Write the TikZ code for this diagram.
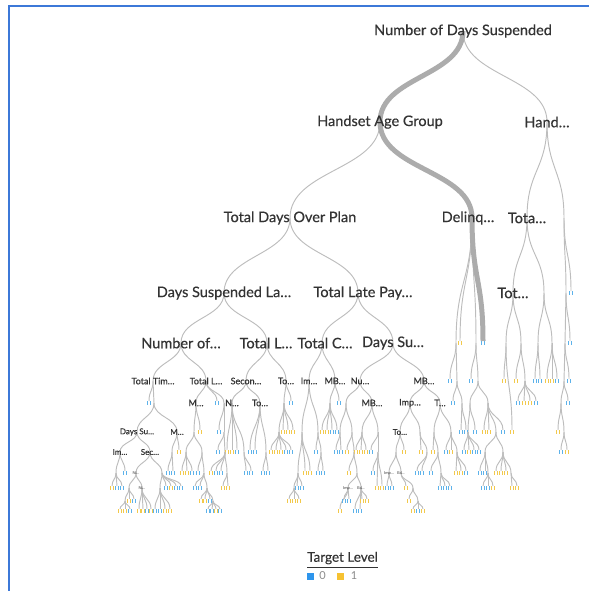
\documentclass[tikz,border=0pt]{standalone}
\usepackage{fontspec}
\setmainfont{Lato}
\newfontfamily\labfont[FakeBold=0.5]{Lato}
\usetikzlibrary{calc}
\definecolor{frameblue}{HTML}{3C78D8}
\definecolor{edgegray}{HTML}{BDBDBD}
\definecolor{thickgray}{HTML}{ACACAC}
\definecolor{txt}{HTML}{333333}
\definecolor{cb}{HTML}{5DB2EA}
\definecolor{cy}{HTML}{F2C94C}
\definecolor{legblue}{HTML}{2E95EC}
\definecolor{legyellow}{HTML}{F6C232}
\definecolor{leggray}{HTML}{8A8A8A}
\tikzset{
  edgeline/.style={draw=edgegray, line width=0.95pt},
  thickline/.style={draw=thickgray, line width=5pt},
  labA/.style={font=\labfont\fontsize{14.5}{16}\selectfont, text=txt, inner sep=0pt},
  labB/.style={font=\labfont\fontsize{9}{10}\selectfont, text=txt, inner sep=0pt},
  labC/.style={font=\labfont\fontsize{8}{9}\selectfont, text=txt, inner sep=0pt},
  labD/.style={font=\fontsize{4}{5}\selectfont, text=txt, inner sep=0pt},
  leafbar/.style={inner sep=0pt, anchor=north, font=\fontsize{4}{4}\selectfont},
  legsq/.style={inner sep=0pt, minimum size=7pt},
  legtxt/.style={font=\fontsize{11}{12}\selectfont, text=leggray, inner sep=0pt},
  legtitle/.style={font=\labfont\fontsize{13.5}{15}\selectfont, text=txt, inner sep=0pt}
}
\newcommand\bars{\rule{1.3pt}{3.3pt}\hspace{1.2pt}\rule{1.3pt}{3.3pt}}
\newcommand\tedge[3][]{\path ($(#2)!0.5!(#3)$) coordinate (tmpmid);
  \draw[edgeline,#1] (#2) .. controls (#2 |- tmpmid) and (#3 |- tmpmid) .. (#3);}
\begin{document}
\begin{tikzpicture}[x=1pt,y=-1pt]
\useasboundingbox (0,0) rectangle (589,591);
% tree points
\foreach \n/\x/\y in {R/463/31, H1/380/122, H2/547/122, T/290/218, D/472/218, TA/527/218, XA/564/218,
 DS/224/293, TL/358/293, TOT/513/293, XB/566/293, XG/544/293,
 NO/181/343, TLb/267/343, TC/322/343, DSU/393/343, XC/565/343, XH/538/343, XI/552/343, XJ/506/343, XK/521/343, XM/456/343, XN/476/343,
 TT/153/381, TLc/206/381, SE/246/381, TO/286/381, IMa/309/381, MB/335/381, NU/360/381, MBb/424/381, XD/564/381, XL/525/381, XO/457/381, XR/478/381,
 JA/154/403, M3/196/403, XL3/224/403, N2/232/403, TO3/260/403, XTo1/284/403, XMB/330/403, XNa/346/403, MB3/372/403, IMP/410/403, TD/440/403, XE/561/403, XP/462/403, XS/470/403, XT/488/403,
 DSU2/137/432, M2/177/432, XM3/194/432, XL4/224/432, XTo2/279/432, XIc/302/432, XId/318/432, XNb/340/432, XNc/352/432, XMa/362/432, XMb/378/432, TO2/400/432, XIa/420/432, XTa/434/432, XTb/451/432, XF/564/432, XU/468/432, XV/496/432,
 IM2/120/452, SEC/150/452, XM2a/172/452, XM4/186/452, XM5/202/452, XL5/225/452, XN2/244/452, XTo3/266/452, XIg/321/452, XNd/354/452, XMc/378/452, XTo2a/396/452, XIb/427/452, XTc/438/452, XTd/457/452, XW/485/452, XX/503/452,
 XIm/116/473, NI1/136/473, XSa/162/473, XM6/204/473, XL6/227/473, XIe/298/473, XNe/357/473, IA/389/473, EA/401/473, XTe/441/473, XY/488/473, XZ/511/473,
 XSb/129/488, NI2/142/488, XSd/160/488, XM7/207/488, XIf/294/488, IB/348/488, EB/361/488, XEa/413/488,
 XSc/125/501, XM8/213/501, XEb/418/501}
 {\coordinate (\n) at (\x,\y);}
% thin connectors between tree points
\foreach \p/\c in {R/H2, H1/T, H2/TA, H2/XA, T/DS, T/TL, D/XM, D/XN, TA/TOT, TA/XG, XA/XB, DS/NO, DS/TLb, TL/TC, TL/DSU,
 TOT/XJ, TOT/XK, XB/XC, XG/XH, XG/XI, NO/TT, NO/TLc, TLb/SE, TLb/TO, TC/IMa, TC/MB, DSU/NU, DSU/MBb, XC/XD, XK/XL, XM/XO, XN/XR,
 TT/JA, TLc/M3, TLc/XL3, SE/N2, SE/TO3, TO/XTo1, IMa/XIc, IMa/XId, MB/XMB, NU/XNa, NU/MB3, MBb/IMP, MBb/TD, XD/XE, XO/XP, XR/XS, XR/XT,
 JA/DSU2, JA/M2, M3/XM3, XL3/XL4, N2/XN2, TO3/XTo3, XTo1/XTo2, XIc/XIe, XId/XIg, XNa/XNb, XNa/XNc, MB3/XMa, MB3/XMb, IMP/TO2, IMP/XIa,
 TD/XTa, TD/XTb, XE/XF, XS/XU, XT/XV, DSU2/IM2, DSU2/SEC, M2/XM2a, XM3/XM4, XM3/XM5, XL4/XL5, XNc/XNd, XMb/XMc, TO2/XTo2a, XIa/XIb,
 XTa/XTc, XTb/XTd, XV/XW, XV/XX, IM2/XIm, SEC/NI1, SEC/XSa, XM5/XM6, XL5/XL6, XIe/XIf, XNd/XNe, XTo2a/IA, XTo2a/EA, XTc/XTe, XW/XY,
 XX/XZ, NI1/XSb, NI1/NI2, XSa/XSd, XM6/XM7, XNe/IB, XNe/EB, EA/XEa, XSb/XSc, XM7/XM8, XEa/XEb}
 {\tedge{\p}{\c}}
% leaves
\foreach \p/\x/\y/\c [count=\i] in {D/460/343/y,
 XA/571/293/b, XB/570/343/b, XC/569/381/b, XD/568/403/b, XE/558/432/y, XF/561/452/b, XF/567/452/y,
 XH/535/381/b, XH/540/381/b, XI/547/381/y, XI/552/381/y, XI/557/381/b,
 XJ/504/381/y, XJ/512/432/y, XK/516/381/y,
 XL/518/403/b, XL/524/403/y, XL/530/403/y, XL/536/403/b,
 XM/450/381/b, XN/471/381/b, XO/453/403/b, XP/461/432/b, XP/466/432/b,
 XS/475/432/b, XU/464/452/b, XU/469/452/y, XU/474/452/b, XU/479/452/b,
 XT/484/432/y, XT/489/432/y, XT/503/432/b,
 XW/480/473/b, XW/485/473/b, XY/483/488/b, XY/488/488/b, XY/493/488/y,
 XX/496/473/y, XX/501/473/y, XX/506/473/y, XZ/512/488/y, XZ/517/488/y,
 TT/149/403/b, TLc/217/403/b, TO/291/403/b, MB/339/403/b, M3/200/432/y, XL3/219/432/b,
 N2/227/452/y, N2/232/452/y, N2/237/452/b, TO3/250/452/b, TO3/255/452/b,
 XTo1/283/432/y, XTo1/288/432/y, XTo1/293/432/y,
 XMB/322/432/y, XMB/327/432/y, XMB/332/432/b, XMB/337/432/b,
 M2/179/452/y, XL4/218/452/b,
 XTo2/271/452/y, XTo2/276/452/y, XTo2/281/452/y, XTo2/286/452/b, XTo2/291/452/b,
 XIc/305/473/y, XIc/310/473/y, XId/316/452/b, XNb/336/452/b, XNb/341/452/b, XNc/347/452/y,
 XMa/356/452/y, XMa/361/452/y, XMa/366/452/y, XMb/371/452/b, TO2/404/452/y, XIa/421/452/y,
 XTa/433/452/y, XTb/446/452/b, XTb/451/452/y,
 IM2/125/473/b, XM2a/168/473/b, XM2a/173/473/b, XM4/182/473/y, XM4/187/473/y, XM4/192/473/b,
 XM5/198/473/b, XL5/211/473/y, XL5/216/473/b, XL5/221/473/b, XN2/246/473/b, XN2/251/473/b,
 XTo3/263/473/b, XTo3/268/473/b, XIg/318/473/b, XIg/323/473/b, XNd/349/473/y,
 XMc/373/473/b, XMc/377/488/y, XMc/382/488/y, XIb/417/473/b, XIb/422/473/b, XTc/431/473/b,
 XTd/456/473/y, XTd/461/473/y, XTd/466/473/b,
 XIm/112/488/y, XIm/117/488/b, XIm/122/488/b,
 XSa/166/488/b, XSa/171/488/y, XSa/176/488/b, XSa/181/488/b,
 XM6/195/488/b, XM6/200/488/b, XL6/223/488/y, XL6/228/488/y, XIe/297/488/b, XIe/302/488/b,
 IA/387/488/b, IA/392/488/b, EA/406/488/y, XTe/440/488/b, XTe/445/488/b, XTe/450/488/b,
 XSb/129/501/y, XSb/134/501/b,
 NI2/139/511/y, NI2/143/511/y, NI2/147/511/b, NI2/151/511/y,
 XSd/155/511/b, XSd/160/511/b, XSd/165/511/y, XSd/170/511/y,
 XM7/201/501/y, XM7/205/501/y, XM7/210/501/b, XIf/289/501/y, XIf/294/501/y, XIf/299/501/y,
 IB/340/511/y, IB/344/501/b, IB/349/501/b, EB/355/511/b, EB/360/511/b, EB/362/501/y, EB/367/501/y,
 XEa/409/501/y, XSc/120/511/y, XSc/125/511/y, XSc/130/511/b,
 XM8/208/511/b, XM8/212/511/b, XM8/216/511/y, XM8/220/511/b,
 XEb/413/511/y, XEb/418/511/b, XEb/423/511/y}
 {\coordinate (lf\i) at (\x,\y-2);
  \tedge{\p}{lf\i}
  \node[leafbar, text=c\c] (lb\i) at (lf\i) {\bars};}
% thick path
\coordinate (lfT) at (483,341);
\tedge[thickline]{R}{H1}
\tedge[thickline]{H1}{D}
\tedge[thickline]{D}{lfT}
\node[leafbar, text=cb] (lbT) at (lfT) {\bars};
% labels
\node[labA] (tR) at (R) {Number of Days Suspended};
\node[labA] (tH1) at (H1) {Handset Age Group};
\node[labA] (tH2) at (H2) {Hand…};
\node[labA] (tT) at (T) {Total Days Over Plan};
\node[labA, xshift=-4pt] (tD) at (D) {Delinq…};
\node[labA] (tTA) at (TA) {Tota…};
\node[labA] (tDS) at (DS) {Days Suspended La…};
\node[labA, xshift=5pt] (tTL) at (TL) {Total Late Pay…};
\node[labA] (tTOT) at (TOT) {Tot…};
\node[labA] (tNO) at (NO) {Number of…};
\node[labA, xshift=-1pt] (tTLb) at (TLb) {Total L…};
\node[labA, xshift=3pt] (tTC) at (TC) {Total C…};
\node[labA] (tDSU) at (DSU) {Days Su…};
\node[labB] (tTT) at (TT) {Total Tim…};
\node[labB] (tTLc) at (TLc) {Total L…};
\node[labB] (tSE) at (SE) {Secon…};
\node[labB] (tTO) at (TO) {To…};
\node[labB] (tIMa) at (IMa) {Im…};
\node[labB] (tMB) at (MB) {MB…};
\node[labB] (tNU) at (NU) {Nu…};
\node[labB] (tMBb) at (MBb) {MB…};
\node[labB] (tM3) at (M3) {M…};
\node[labB] (tN2) at (N2) {N…};
\node[labB] (tTO3) at (TO3) {To…};
\node[labB] (tMB3) at (MB3) {MB…};
\node[labB] (tIMP) at (IMP) {Imp…};
\node[labB] (tTD) at (TD) {T…};
\node[labC] (tDSU2) at (DSU2) {Days Su…};
\node[labC] (tM2) at (M2) {M…};
\node[labC] (tTO2) at (TO2) {To…};
\node[labC] (tIM2) at (IM2) {Im…};
\node[labC] (tSEC) at (SEC) {Sec…};
\node[labD] (tNI1) at (NI1) {Ni…};
\node[labD] (tNI2) at (NI2) {Ni…};
\node[labD] (tIA) at (IA) {Imp…};
\node[labD] (tEA) at (EA) {Ed…};
\node[labD] (tIB) at (IB) {Imp…};
\node[labD] (tEB) at (EB) {Ed…};
% frame
\draw[frameblue, line width=1.6pt] (9,591) -- (9,6) -- (589,6);
% legend
\node[legtitle] (legT) at (342.5,558) {Target Level};
\draw[draw=txt, line width=1.2pt] (307,567.5) -- (378,567.5);
\node[legsq, fill=legblue] (sq0) at (310,576) {};
\node[legtxt] (lg0) at (322.5,576) {0};
\node[legsq, fill=legyellow] (sq1) at (340,576) {};
\node[legtxt] (lg1) at (354,576) {1};
\end{tikzpicture}
\end{document}
